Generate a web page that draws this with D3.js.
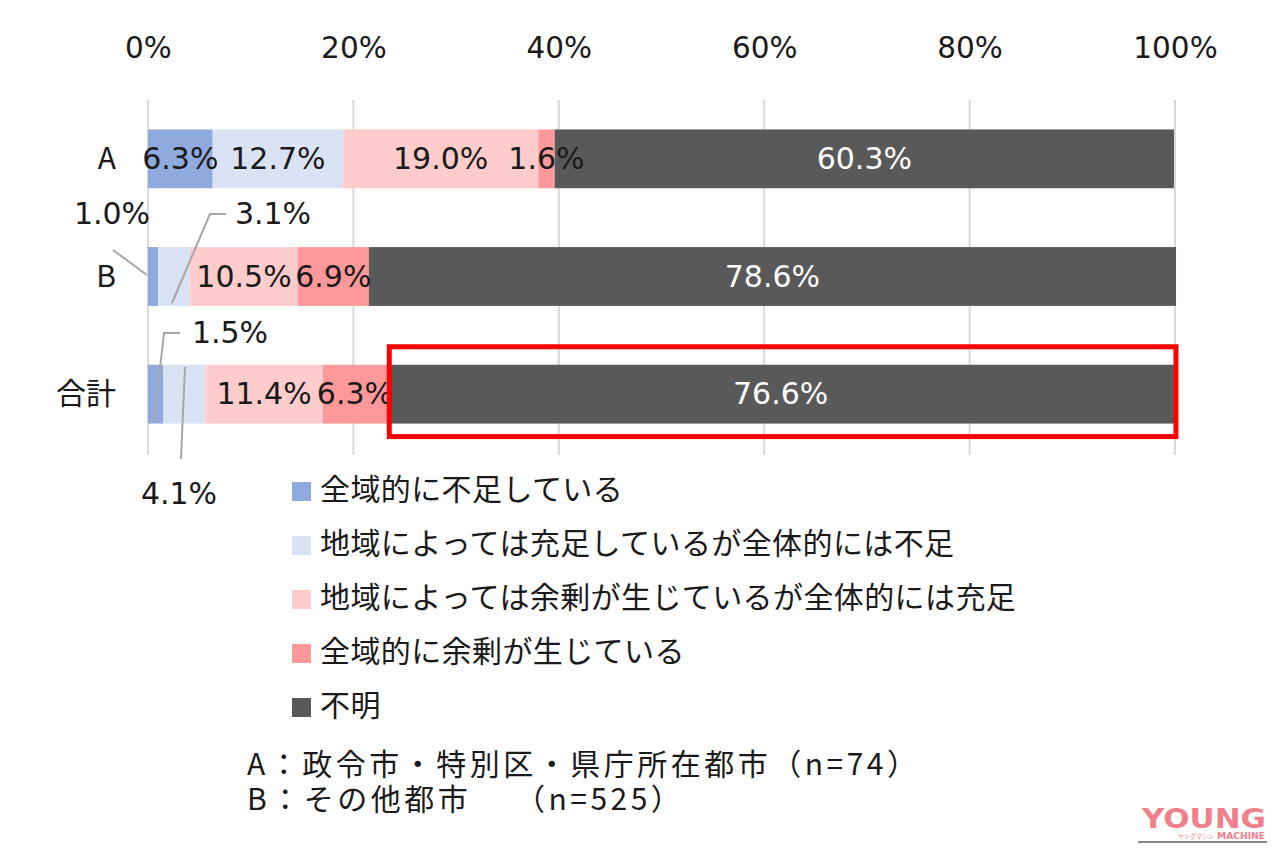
<!DOCTYPE html>
<html>
<head>
<meta charset="utf-8">
<script src="https://cdn.jsdelivr.net/npm/d3@7"></script>
<style>
  html, body { margin: 0; padding: 0; background: #fff; }
  svg { display: block; font-family: "DejaVu Sans", "Noto Sans CJK JP", sans-serif; }
  text { white-space: pre; }
</style>
</head>
<body>
<svg id="chart" width="1280" height="851"></svg>
<script>
// ---- data ----
const categories = ["A", "B", "合計"];
const seriesNames = [
  "全域的に不足している",
  "地域によっては充足しているが全体的には不足",
  "地域によっては余剰が生じているが全体的には充足",
  "全域的に余剰が生じている",
  "不明"
];
const seriesValues = [
  [6.3, 1.0, 1.5],
  [12.7, 3.1, 4.1],
  [19.0, 10.5, 11.4],
  [1.6, 6.9, 6.3],
  [60.3, 78.6, 76.6]
];
const seriesColors = ["#8faadc", "#dae3f3", "#ffcccc", "#ff9999", "#595959"];
const tickValues = [0, 20, 40, 60, 80, 100];
const tickLabels = ["0%", "20%", "40%", "60%", "80%", "100%"];
const noteLines = ["A：政令市・特別区・県庁所在都市（n=74）", "B：その他都市　 （n=525）"];

// ---- scales ----
const svg = d3.select("#chart");
const x = d3.scaleLinear().domain([0, 100]).range([148, 1175]);
const y = d3.scaleBand().domain(categories).range([100, 453]).paddingInner(0.5).paddingOuter(0.25);

// gridlines
svg.append("g").selectAll("line").data(tickValues).join("line")
  .attr("x1", d => x(d)).attr("x2", d => x(d))
  .attr("y1", 100).attr("y2", 455)
  .attr("stroke", "#d9d9d9").attr("stroke-width", 2);

// top axis labels
const axis = d3.axisTop(x).tickValues(tickValues).tickSize(0).tickPadding(0)
  .tickFormat((d, i) => tickLabels[i]);
const axG = svg.append("g").attr("transform", "translate(0,58)").call(axis);
axG.select(".domain").remove();
axG.selectAll("text").attr("font-size", 29.5).attr("fill", "#1a1a1a")
  .attr("font-family", "DejaVu Sans, sans-serif").attr("dy", 0);

// stacked layout
const stacked = categories.map((c, ci) => {
  let acc = 0;
  return seriesValues.map((vals, si) => {
    const v = vals[ci];
    const seg = { cat: c, si, v, x0: acc, x1: acc + v };
    acc += v;
    return seg;
  });
}).flat();

svg.append("g").selectAll("rect").data(stacked).join("rect")
  .attr("x", d => x(d.x0))
  .attr("width", d => x(d.x1) - x(d.x0))
  .attr("y", d => y(d.cat))
  .attr("height", y.bandwidth())
  .attr("fill", d => seriesColors[d.si]);

const mid = c => y(c) + y.bandwidth() / 2;

// category labels
svg.append("g").selectAll("text").data(categories).join("text")
  .attr("x", 116).attr("y", d => mid(d) - 3)
  .attr("text-anchor", "end").attr("dominant-baseline", "central")
  .attr("font-family", "Noto Sans CJK JP, sans-serif")
  .attr("font-size", 30).attr("fill", "#1a1a1a")
  .text(d => d);

// inside data labels
const outside = new Set(["B-0", "B-1", "合計-0", "合計-1"]);
svg.append("g").selectAll("text").data(stacked.filter(d => !outside.has(d.cat + "-" + d.si))).join("text")
  .attr("x", d => x((d.x0 + d.x1) / 2))
  .attr("y", d => mid(d.cat) + 10)
  .attr("text-anchor", "middle")
  .attr("font-size", 30)
  .attr("fill", d => d.si === 4 ? "#ffffff" : "#1a1a1a")
  .text(d => d.v.toFixed(1) + "%");

// outside labels with leader lines
const segOf = (cat, si) => stacked.find(d => d.cat === cat && d.si === si);
const ext = [
  { seg: segOf("B", 0), tx: 112, ty: 224, pts: [[113, 250], [147, 275]] },
  { seg: segOf("B", 1), tx: 273, ty: 224, pts: [[226, 214], [210, 214], [172, 303]] },
  { seg: segOf("合計", 0), tx: 230, ty: 343, pts: [[180, 333], [164, 333], [154, 421]] },
  { seg: segOf("合計", 1), tx: 179, ty: 504, pts: [[181, 459], [185, 367]] }
];
const lg = svg.append("g");
ext.forEach(e => {
  lg.append("path").attr("d", d3.line()(e.pts))
    .attr("fill", "none").attr("stroke", "#a6a6a6").attr("stroke-width", 2);
  lg.append("text").attr("x", e.tx).attr("y", e.ty)
    .attr("text-anchor", "middle")
    .attr("font-size", 30).attr("fill", "#1a1a1a")
    .text(e.seg.v.toFixed(1) + "%");
});

// red highlight box around 合計 不明
const hl = segOf("合計", 4);
svg.append("rect")
  .attr("x", x(hl.x0) + 2).attr("y", y("合計") - 18)
  .attr("width", x(hl.x1) - x(hl.x0))
  .attr("height", y.bandwidth() + 31)
  .attr("fill", "none").attr("stroke", "#ff0000").attr("stroke-width", 5);

// legend
const leg = svg.append("g").attr("transform", "translate(292,482)");
const li = leg.selectAll("g").data(seriesNames).join("g")
  .attr("transform", (d, i) => `translate(0,${i * 54})`);
li.append("rect").attr("width", 19).attr("height", 19)
  .attr("fill", (d, i) => seriesColors[i]);
li.append("text").attr("x", 28).attr("y", 5)
  .attr("dominant-baseline", "central")
  .attr("font-family", "Noto Sans CJK JP, sans-serif")
  .attr("letter-spacing", 0.4)
  .attr("font-size", 30).attr("fill", "#1a1a1a").text(d => d);

// notes
svg.append("g").selectAll("text").data(noteLines).join("text")
  .attr("x", 247).attr("y", (d, i) => 762 + i * 35)
  .attr("dominant-baseline", "central")
  .attr("font-family", "Noto Sans CJK JP, sans-serif")
  .attr("letter-spacing", 3.5)
  .attr("font-size", 30).attr("fill", "#1a1a1a").text(d => d);

// logo
const logo = svg.append("g");
logo.append("text").attr("x", 1142).attr("y", 828)
  .attr("font-family", "DejaVu Sans, sans-serif").attr("font-weight", "bold")
  .attr("font-size", 26).attr("fill", "#f0808a")
  .attr("textLength", 124).attr("lengthAdjust", "spacingAndGlyphs")
  .text("YOUNG");
logo.append("text").attr("x", 1178).attr("y", 839)
  .attr("font-family", "Noto Sans CJK JP, sans-serif")
  .attr("font-size", 6.5).attr("fill", "#f0808a")
  .attr("textLength", 36).attr("lengthAdjust", "spacingAndGlyphs")
  .text("ヤングマシン");
logo.append("text").attr("x", 1217).attr("y", 839)
  .attr("font-family", "DejaVu Sans, sans-serif").attr("font-weight", "bold")
  .attr("font-size", 9).attr("fill", "#f0808a")
  .attr("textLength", 48).attr("lengthAdjust", "spacingAndGlyphs")
  .text("MACHINE");
logo.append("line").attr("x1", 1138).attr("x2", 1267).attr("y1", 842).attr("y2", 842)
  .attr("stroke", "#111").attr("stroke-width", 1);
</script>
</body>
</html>
